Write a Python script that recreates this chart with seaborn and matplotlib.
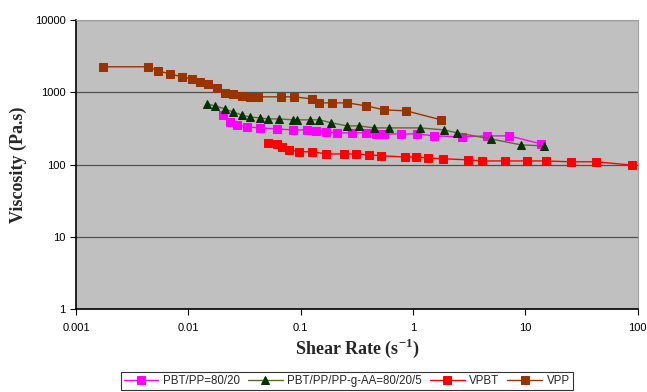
import matplotlib
matplotlib.use("Agg")
import matplotlib.pyplot as plt
import seaborn as sns
import pandas as pd
import numpy as np

# ---- data ----
pbtpp_x = [0.0202, 0.0233, 0.0269, 0.0330, 0.0431, 0.0610, 0.0846, 0.113, 0.138, 0.169,
           0.212, 0.289, 0.384, 0.471, 0.555, 0.785, 1.09, 1.54, 2.73, 4.56, 7.15, 13.8]
pbtpp_y = [486, 389, 354, 332, 321, 311, 301, 301, 292, 283,
           274, 274, 274, 265, 265, 265, 265, 249, 241, 249, 249, 193]

aa_x = [0.0146, 0.0172, 0.0211, 0.0248, 0.0298, 0.0351, 0.0431, 0.0507, 0.0648, 0.0846,
        0.0937, 0.120, 0.147, 0.188, 0.260, 0.333, 0.452, 0.615, 1.16, 1.89, 2.47, 4.95, 9.14, 14.6]
aa_y = [691, 648, 589, 535, 486, 456, 442, 428, 428, 415,
        415, 415, 415, 377, 342, 342, 321, 321, 321, 301, 274, 226, 187, 181]

vpbt_x = [0.0507, 0.061, 0.0689, 0.0795, 0.0975, 0.127, 0.169, 0.245, 0.313, 0.408, 0.522,
          0.853, 1.07, 1.37, 1.85, 3.09, 4.12, 6.59, 10.3, 15.2, 25.4, 42.4, 90.0]
vpbt_y = [199, 193, 175, 159, 150, 150, 140, 140, 140, 136, 132,
          127, 127, 123, 120, 116, 112, 112, 112, 112, 109, 109, 98]

vpp_x = [0.00174, 0.00436, 0.00535, 0.00684, 0.00874, 0.0107, 0.0126, 0.0149, 0.0179, 0.0210,
         0.0248, 0.0298, 0.0351, 0.0413, 0.0675, 0.0881, 0.125, 0.147, 0.192, 0.260,
         0.384, 0.555, 0.871, 1.78]
vpp_y = [2250, 2250, 1979, 1798, 1634, 1534, 1394, 1307, 1150, 981,
         950, 892, 864, 864, 864, 864, 810, 713, 713, 713,
         648, 570, 553, 415]

labels = ["PBT/PP=80/20", "PBT/PP/PP-g-AA=80/20/5", "VPBT", "VPP"]
y_ticks = [1, 10, 100, 1000, 10000]
y_tick_labels = ["1", "10", "100", "1000", "10000"]
x_ticks = [0.001, 0.01, 0.1, 1, 10, 100]
x_tick_labels = ["0.001", "0.01", "0.1", "1", "10", "100"]

series = [
    (labels[0], pbtpp_x, pbtpp_y, "#FF00FF", "#FF00FF", "s"),
    (labels[1], aa_x, aa_y, "#666633", "#003300", "^"),
    (labels[2], vpbt_x, vpbt_y, "#FF0000", "#FF0000", "s"),
    (labels[3], vpp_x, vpp_y, "#993300", "#993300", "s"),
]

sns.set_style("white")
plt.rcParams['font.family'] = ['Liberation Sans', 'DejaVu Sans']
plt.rcParams['mathtext.fontset'] = 'custom'
plt.rcParams['mathtext.rm'] = 'Liberation Serif'
plt.rcParams['mathtext.bf'] = 'Liberation Serif:bold'

fig = plt.figure(figsize=(6.47, 3.92), dpi=100)
ax = fig.add_axes([0.1175, 0.2117, 0.868, 0.7373])
ax.set_facecolor("#C0C0C0")

for name, xs, ys, lc, mc, mk in series:
    df = pd.DataFrame({"x": xs, "y": ys})
    sns.lineplot(data=df, x="x", y="y", ax=ax, color=lc, marker=mk,
                 markersize=5.5 if mk == "s" else 6, markerfacecolor=mc,
                 markeredgecolor=mc, linewidth=1.0, estimator=None,
                 sort=False, label=name)

ax.set_xscale("log")
ax.set_yscale("log")
ax.set_xlim(0.001, 100)
ax.set_ylim(1, 10000)
ax.set_xticks(x_ticks)
ax.set_xticklabels(x_tick_labels)
ax.set_yticks(y_ticks)
ax.set_yticklabels(y_tick_labels)
ax.minorticks_off()
ax.tick_params(axis="both", which="major", labelsize=8, length=4, width=0.8,
               direction="out", colors="black", left=True, bottom=True)
ax.tick_params(axis="x", pad=6)
ax.yaxis.grid(True, color="#505050", linewidth=0.9)
ax.xaxis.grid(False)
ax.set_axisbelow(True)

for s in ["top", "right"]:
    ax.spines[s].set_color("#A0A0A0")
    ax.spines[s].set_linewidth(0.8)
for s in ["left", "bottom"]:
    ax.spines[s].set_color("black")
    ax.spines[s].set_linewidth(1.2)

ax.set_xlabel("Shear Rate (s$^{\\mathbf{-1}}$)", fontsize=13, fontweight="bold",
              family="Liberation Serif", labelpad=3)
ax.set_ylabel("Viscosity (Pa.s)", fontsize=13, fontweight="bold",
              family="Liberation Serif", labelpad=6)

handles, labs = ax.get_legend_handles_labels()
ax.legend(handles, labs, loc="center", bbox_to_anchor=(0.536, 0.028),
          bbox_transform=fig.transFigure, ncol=4, fontsize=8.3, frameon=True,
          fancybox=False, edgecolor="black", handlelength=3.0, columnspacing=0.7,
          handletextpad=0.4, borderpad=0.25)
leg = ax.get_legend()
leg.get_frame().set_linewidth(0.8)

fig.savefig("out.png", dpi=100, facecolor="white")
